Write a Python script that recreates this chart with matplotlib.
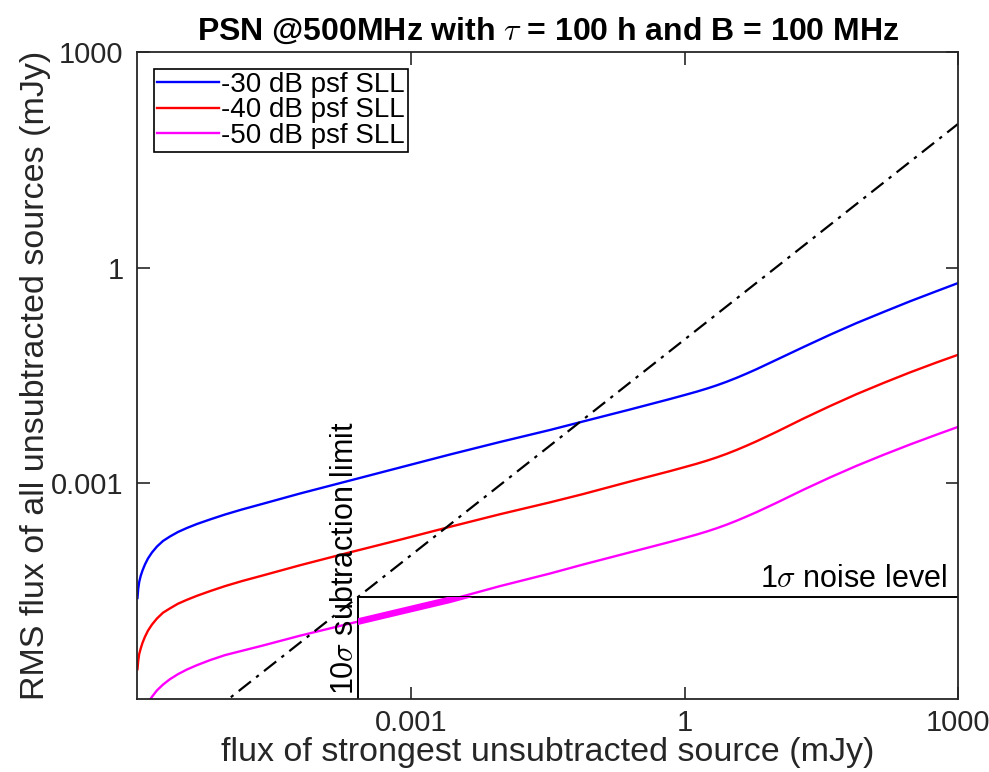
import numpy as np
import matplotlib
matplotlib.use("Agg")
import matplotlib.pyplot as plt
from matplotlib.patches import Rectangle
from matplotlib.transforms import blended_transform_factory

plt.rcParams['font.family'] = ['Liberation Sans', 'DejaVu Sans']
plt.rcParams['mathtext.fontset'] = 'cm'

# ---- data, as log10 of flux in mJy ----
log_flux = [-6.000, -5.992, -5.981, -5.965, -5.945, -5.918, -5.885, -5.841, -5.786,
            -5.720, -5.644, -5.556, -5.457, -5.348, -5.205, -5.040, -4.854, -4.635,
            -4.218, -3.669, -3.121, -2.572, -2.024, -1.476, -1.114, -0.598, -0.159,
            0.000, 0.133, 0.250, 0.353, 0.460, 0.572, 0.680, 0.792, 1.011, 1.303,
            1.596, 1.886, 2.180, 2.473, 2.766, 3.000]

log_rms_30 = [-4.595, -4.470, -4.373, -4.289, -4.213, -4.129, -4.046, -3.962, -3.879,
              -3.802, -3.740, -3.677, -3.621, -3.566, -3.503, -3.434, -3.364, -3.288,
              -3.142, -2.961, -2.780, -2.599, -2.425, -2.258, -2.140, -1.973, -1.827,
              -1.772, -1.725, -1.680, -1.637, -1.588, -1.532, -1.474, -1.411, -1.280,
              -1.105, -0.933, -0.771, -0.618, -0.468, -0.326, -0.214]

log_rms_40 = [-5.585, -5.470, -5.375, -5.300, -5.220, -5.135, -5.050, -4.965, -4.880,
              -4.800, -4.740, -4.675, -4.620, -4.565, -4.500, -4.430, -4.360, -4.285,
              -4.140, -3.960, -3.785, -3.605, -3.430, -3.265, -3.150, -2.975, -2.830,
              -2.775, -2.728, -2.683, -2.640, -2.591, -2.535, -2.477, -2.414, -2.283,
              -2.100, -1.925, -1.760, -1.605, -1.457, -1.318, -1.212]

log_flux_50 = log_flux[6:]
log_rms_50 = [-6.050, -5.970, -5.880, -5.800, -5.725, -5.655, -5.590, -5.530, -5.460,
              -5.390, -5.330, -5.260, -5.120, -4.950, -4.785, -4.620, -4.430, -4.255,
              -4.130, -3.960, -3.815, -3.760, -3.713, -3.668, -3.625, -3.576, -3.520,
              -3.462, -3.400, -3.270, -3.090, -2.918, -2.757, -2.605, -2.460, -2.322,
              -2.215]

limit_x = [1e-6, 1e3]          # 10 sigma subtraction-limit relation (dash-dot)
limit_y = [1e-7, 1e2]

sigma_noise = 2.65e-5          # 1 sigma noise level (mJy)
sub_limit = 2.65e-4            # 10 sigma subtraction limit (mJy)

labels = ['-30 dB psf SLL', '-40 dB psf SLL', '-50 dB psf SLL']
colors = ['#0000ff', '#ff0000', '#ff00ff']

xlim = (1e-6, 1e3)
ylim = (1e-6, 1e3)
ticks = [1e-3, 1, 1e3]
tick_labels = ['0.001', '1', '1000']

flux = 10.0 ** np.array(log_flux)
flux50 = 10.0 ** np.array(log_flux_50)
series = [(flux, 10.0 ** np.array(log_rms_30)),
          (flux, 10.0 ** np.array(log_rms_40)),
          (flux50, 10.0 ** np.array(log_rms_50))]

# ---- figure ----
fig = plt.figure(figsize=(9.89, 7.72), dpi=100)
ax = fig.add_axes([0.1390, 0.0946, 0.8297, 0.8380])
axcol = '#262626'

lw = 1.7
for (x, y), c, lab in zip(series, colors, labels):
    ax.plot(x, y, color=c, lw=lw, label=lab, solid_joinstyle='round')

ax.plot(limit_x, limit_y, color='black', lw=1.6, linestyle=(0, (7, 3, 1.5, 3)))

# noise lines
ax.plot([sub_limit, sub_limit], [ylim[0], sigma_noise], color='black', lw=1.4)
ax.plot([sub_limit, xlim[1]], [sigma_noise, sigma_noise], color='black', lw=1.4)

# thick highlighted part of -50 dB curve (between 10 sigma limit and noise level)
thick, = ax.plot(series[2][0], series[2][1], color=colors[2], lw=4.8,
                 solid_capstyle='butt')
clip = Rectangle((sub_limit, ylim[0]), xlim[1] - sub_limit, sigma_noise - ylim[0],
                 transform=ax.transData, facecolor='none', edgecolor='none')
ax.add_patch(clip)
thick.set_clip_path(clip)

ax.set_xscale('log')
ax.set_yscale('log')
ax.set_xlim(*xlim)
ax.set_ylim(*ylim)
ax.set_xticks(ticks)
ax.set_xticklabels(tick_labels)
ax.set_yticks(ticks)
ax.set_yticklabels(tick_labels)
ax.minorticks_off()
ax.tick_params(which='both', direction='in', top=True, right=True, length=9,
               width=1.2, colors=axcol, labelsize=21)
ax.tick_params(axis='x', pad=7)
ax.tick_params(axis='y', pad=10)
for s in ax.spines.values():
    s.set_color(axcol)
    s.set_linewidth(1.3)

ax.set_xlabel('flux of strongest unsubtracted source (mJy)', fontsize=24.5,
              color=axcol, labelpad=0)
ax.set_ylabel('RMS flux of all unsubtracted sources (mJy)', fontsize=24.5,
              color=axcol, labelpad=0)
ax.set_title(r'PSN @500MHz with $\tau$ = 100 h and B = 100 MHz', fontsize=23,
             fontweight='bold', pad=9)

ax.text(sub_limit * 1.04, 1.15e-6, r'10$\sigma$ subtraction limit', rotation=90,
        ha='right', va='bottom', fontsize=22)
tr = blended_transform_factory(ax.transAxes, ax.transData)
ax.text(0.986, sigma_noise * 1.1, r'1$\sigma$ noise level', transform=tr,
        ha='right', va='bottom', fontsize=22)

leg = ax.legend(loc='upper left', fontsize=20, fancybox=False, framealpha=1,
                edgecolor='black', handlelength=2.2, handletextpad=0.1,
                borderpad=0.12, labelspacing=-0.02, borderaxespad=0.6)
leg.get_frame().set_linewidth(1.2)

fig.savefig('out.png', dpi=100)
